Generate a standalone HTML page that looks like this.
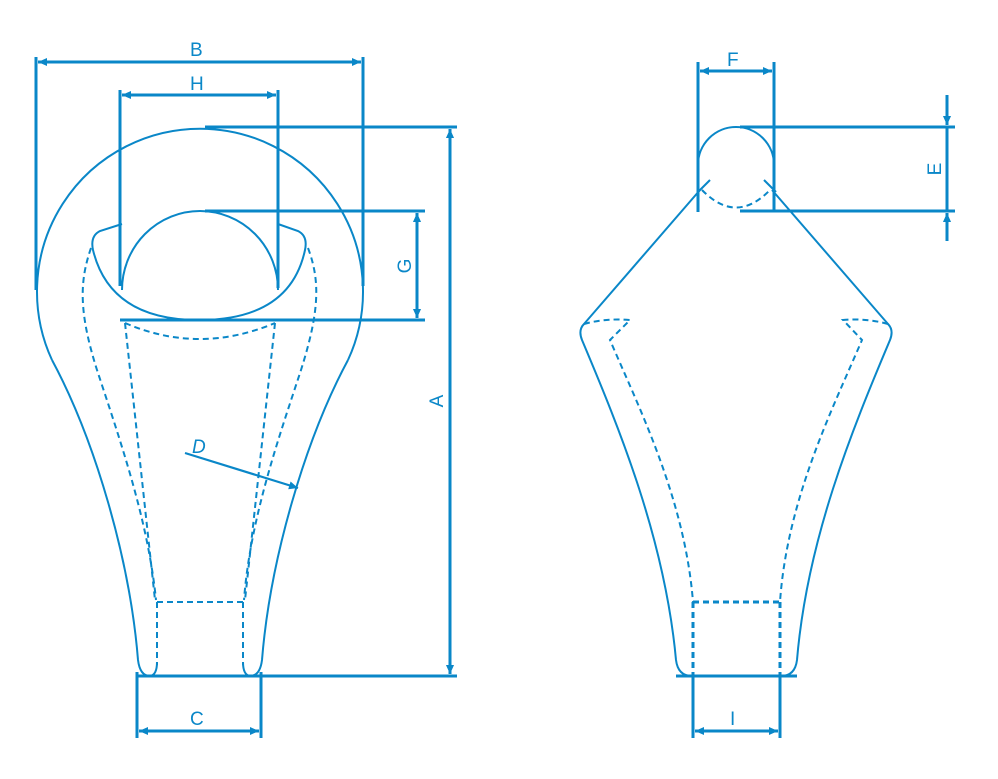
<!DOCTYPE html>
<html><head><meta charset="utf-8"><style>
html,body{margin:0;padding:0;background:#fff;}
svg{display:block}
text{font-family:"Liberation Sans",sans-serif;font-size:19px;fill:#0a87c8}
</style></head><body>
<svg width="998" height="779" viewBox="0 0 998 779" xmlns="http://www.w3.org/2000/svg">
<defs>
<marker id="a" viewBox="0 0 10 10" refX="10" refY="5" markerWidth="14" markerHeight="9" orient="auto-start-reverse" markerUnits="userSpaceOnUse"><path d="M0,0.5 L10,5 L0,9.5 Z" fill="#0a87c8"/></marker>
</defs>
<g stroke="#0a87c8" fill="none" stroke-width="2">
<g stroke-width="3">
<line x1="36" y1="57" x2="36" y2="290"/>
<line x1="363" y1="57" x2="363" y2="286"/>
<line x1="38" y1="62" x2="361" y2="62" marker-start="url(#a)" marker-end="url(#a)"/>
<line x1="120" y1="90" x2="120" y2="286"/>
<line x1="278" y1="90" x2="278" y2="288"/>
<line x1="122" y1="95" x2="276" y2="95" marker-start="url(#a)" marker-end="url(#a)"/>
<line x1="205" y1="127" x2="457" y2="127"/>
<line x1="205" y1="211" x2="425" y2="211"/>
<line x1="120" y1="320" x2="425" y2="320"/>
<line x1="417" y1="213" x2="417" y2="318" marker-start="url(#a)" marker-end="url(#a)"/>
<line x1="450" y1="129" x2="450" y2="674" marker-start="url(#a)" marker-end="url(#a)"/>
<line x1="137" y1="676" x2="457" y2="676"/>
<line x1="137" y1="672" x2="137" y2="738"/>
<line x1="261" y1="672" x2="261" y2="738"/>
<line x1="139" y1="731" x2="259" y2="731" marker-start="url(#a)" marker-end="url(#a)"/>
</g>
<line x1="185" y1="453" x2="298" y2="488" marker-end="url(#a)" stroke-width="2.2"/>
<path d="M52,360 A163,163 0 1 1 348,360"/>
<path d="M52,360 C95,440 130,560 138,660 Q140,676 150,676 Q157,675 157,662"/>
<path d="M348,360 C305,440 270,560 262,660 Q260,676 250,676 Q243,675 243,662"/>
<path d="M122,290 A78,79 0 0 1 278,290"/>
<path d="M122,224 L100,231 Q90,236 93,250 Q110,320 199,320 Q290,320 305,250 Q308,236 298,231 L278,224"/>
<g stroke-dasharray="6,4">
<path d="M125,323 Q199,355 275,323"/>
<path d="M91,248 C80,280 78,310 97,370 C120,440 148,520 156,600"/>
<path d="M308,248 C320,280 320,310 301,370 C278,440 250,520 244,600"/>
<path d="M125,323 L155,600"/>
<path d="M275,323 L245,600"/>
<path d="M157,602 L243,602 M157,602 L157,665 M243,602 L243,665"/>
<line x1="122" y1="320" x2="278" y2="320" stroke-width="3"/>
</g>
<g stroke-width="3">
<line x1="698" y1="62" x2="698" y2="212"/>
<line x1="774" y1="62" x2="774" y2="212"/>
<line x1="700" y1="71" x2="772" y2="71" marker-start="url(#a)" marker-end="url(#a)"/>
<line x1="740" y1="127" x2="955" y2="127"/>
<line x1="740" y1="211" x2="955" y2="211"/>
<line x1="947" y1="95" x2="947" y2="125" marker-end="url(#a)"/>
<line x1="947" y1="241" x2="947" y2="213" marker-end="url(#a)"/>
<line x1="947" y1="127" x2="947" y2="211"/>
<line x1="676" y1="676" x2="797" y2="676"/>
<line x1="693" y1="672" x2="693" y2="738"/>
<line x1="780" y1="672" x2="780" y2="738"/>
<line x1="695" y1="731" x2="778" y2="731" marker-start="url(#a)" marker-end="url(#a)"/>
</g>
<path d="M698,190 L698,165 A38,38 0 0 1 774,165 L774,190"/>
<path d="M702,190 Q736,225 770,190" stroke-dasharray="6,4"/>
<line x1="698" y1="192" x2="710" y2="180"/>
<line x1="776" y1="192" x2="764" y2="180"/>
<path d="M700,190 L584,324 Q578,330 582,340 C620,430 665,540 676,660 Q678,676 692,676"/>
<path d="M772,190 L888,324 Q894,330 890,340 C852,430 807,540 797,660 Q795,676 781,676"/>
<g stroke-dasharray="6,4">
<path d="M584,324 Q605,318 630,320 L610,340 C640,410 685,500 693,602"/>
<path d="M888,324 Q867,318 843,320 L862,340 C832,410 787,500 780,602"/>
<path d="M693,602 L780,602 M693,602 L693,676 M780,602 L780,676" stroke-width="3"/>
</g>
</g>
<text x="190" y="56">B</text>
<text x="190" y="90">H</text>
<text x="190" y="725">C</text>
<text x="192" y="453" font-style="italic">D</text>
<text x="727" y="66">F</text>
<text x="730" y="725">I</text>
<text transform="translate(411,266) rotate(-90)" text-anchor="middle">G</text>
<text transform="translate(443,401) rotate(-90)" text-anchor="middle">A</text>
<text transform="translate(941,169) rotate(-90)" text-anchor="middle">E</text>
</svg>
</body></html>
